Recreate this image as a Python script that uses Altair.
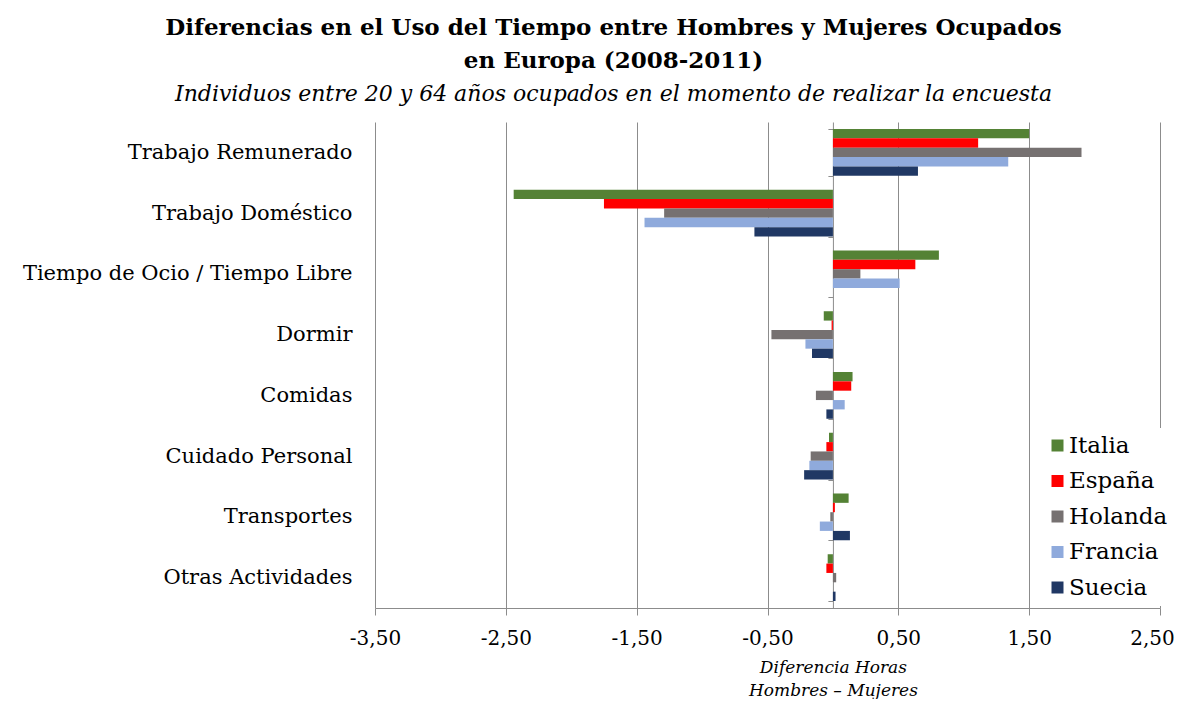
import altair as alt
import pandas as pd

categorias = ["Trabajo Remunerado", "Trabajo Doméstico", "Tiempo de Ocio / Tiempo Libre",
              "Dormir", "Comidas", "Cuidado Personal", "Transportes", "Otras Actividades"]
paises = ["Italia", "España", "Holanda", "Francia", "Suecia"]
colores = ["#548235", "#FF0000", "#767171", "#8FAADC", "#203864"]

italia = [1.50, -2.44, 0.81, -0.07, 0.15, -0.03, 0.12, -0.04]
espana = [1.11, -1.75, 0.63, -0.01, 0.14, -0.05, 0.015, -0.05]
holanda = [1.90, -1.29, 0.21, -0.47, -0.13, -0.17, -0.02, 0.025]
francia = [1.34, -1.44, 0.51, -0.21, 0.09, -0.18, -0.10, 0.0]
suecia = [0.65, -0.60, 0.0, -0.16, -0.05, -0.22, 0.13, 0.02]

ticks_x = [-3.5, -2.5, -1.5, -0.5, 0.5, 1.5, 2.5]

series = {"Italia": italia, "España": espana, "Holanda": holanda,
          "Francia": francia, "Suecia": suecia}
rows = []
for p in paises:
    for c, v in zip(categorias, series[p]):
        rows.append({"categoria": c, "pais": p, "valor": v})
df = pd.DataFrame(rows)

FONT = "DejaVu Serif"
GRID = "#8c8c8c"
W, H = 785, 486
zero_px = W * 3.5 / 6.0

chart = alt.Chart(df).mark_bar().encode(
    x=alt.X("valor:Q",
            scale=alt.Scale(domain=[-3.5, 2.5], nice=False, zero=False),
            axis=alt.Axis(values=ticks_x,
                          labelExpr="(datum.value < 0 ? '-' : '') + replace(format(abs(datum.value), '.2f'), '.', ',')",
                          grid=True, gridColor=GRID, gridWidth=1, labelFlush=False,
                          labelOffset={"condition": {"test": "datum.value >= 2.5", "value": -8}, "value": 0},
                          domainColor=GRID, tickColor=GRID, tickSize=7,
                          labelFont=FONT, labelFontSize=20, labelColor="black", labelPadding=13,
                          title=["Diferencia Horas", "Hombres – Mujeres"],
                          titleFont=FONT, titleFontStyle="italic", titleFontWeight="normal",
                          titleFontSize=17, titleColor="black", titleLineHeight=23,
                          titleX=zero_px, titleY=51, titleAlign="center", titleBaseline="top")),
    y=alt.Y("categoria:N", sort=categorias,
            scale=alt.Scale(paddingInner=0.23, paddingOuter=0.115),
            axis=alt.Axis(title=None, offset=-zero_px, domainColor=GRID, tickColor=GRID,
                          tickSize=5, tickBand="extent", labelPadding=476, labelLimit=500,
                          labelFont=FONT, labelFontSize=21, labelColor="black")),
    yOffset=alt.YOffset("pais:N", sort=paises,
                        scale=alt.Scale(paddingInner=0, paddingOuter=0)),
    color=alt.Color("pais:N", sort=paises,
                    scale=alt.Scale(domain=paises, range=colores),
                    legend=alt.Legend(title=None, orient="none", legendX=665, legendY=306,
                                      symbolType="square", symbolSize=144, symbolStrokeWidth=0,
                                      labelFont=FONT, labelFontSize=23, labelColor="black",
                                      rowPadding=11.5, fillColor="white", padding=6, labelOffset=0)),
).properties(
    width=W, height=H,
    autosize="none",
    padding={"left": 367, "top": 114, "right": 15, "bottom": 91},
    title=alt.TitleParams(
        text=["Diferencias en el Uso del Tiempo entre Hombres y Mujeres Ocupados",
              "en Europa (2008-2011)"],
        subtitle="Individuos entre 20 y 64 años ocupados en el momento de realizar la encuesta",
        font=FONT, fontSize=23, fontWeight="bold", color="black", lineHeight=33,
        subtitleFont=FONT, subtitleFontStyle="italic", subtitleFontSize=22,
        subtitleColor="black", subtitlePadding=11,
        anchor="middle", dx=-154, offset=6),
).configure_view(stroke=None)

chart.save("out.html", embed_options={"renderer": "svg", "actions": False})
